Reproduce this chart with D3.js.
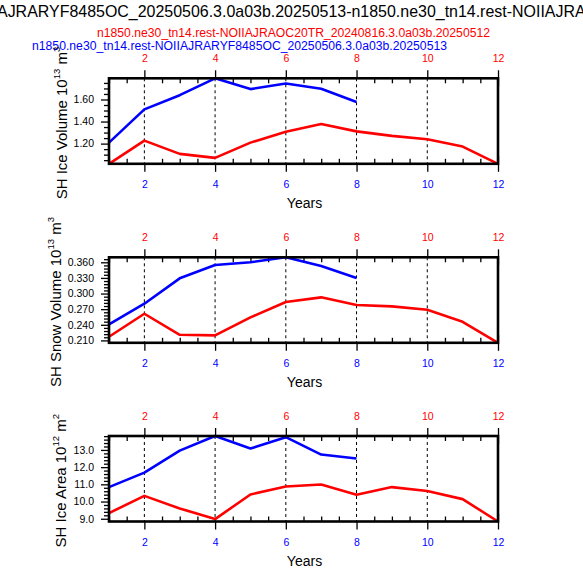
<!DOCTYPE html>
<html>
<head>
<meta charset="utf-8">
<script src="https://cdn.jsdelivr.net/npm/d3@7"></script>
<style>
  body { margin: 0; background: #fff; }
  svg { display: block; font-family: "Liberation Sans", Arial, Helvetica, sans-serif; }
</style>
</head>
<body>
<div id="chart"></div>
<script>
// Chart data
const caseBlue = 'n1850.ne30_tn14.rest-NOIIAJRARYF8485OC_20250506.3.0a03b.20250513';
const caseRed = 'n1850.ne30_tn14.rest-NOIIAJRAOC20TR_20240816.3.0a03b.20250512';
const mainTitle = caseBlue + '-' + caseRed;

const years = [1, 2, 3, 4, 5, 6, 7, 8, 9, 10, 11, 12];
const xMajorTicks = [2, 4, 6, 8, 10, 12];
const xGridLines = [2, 4, 6, 8, 10];

const iceVolBlue = [1.209, 1.510, 1.639, 1.792, 1.694, 1.745, 1.697, 1.578];
const iceVolRed = [1.017, 1.227, 1.107, 1.071, 1.209, 1.308, 1.377, 1.311, 1.270, 1.240, 1.173, 1.017];
const iceVolTicks = [1.20, 1.40, 1.60];

const snowVolBlue = [0.2408, 0.2804, 0.3292, 0.3548, 0.3600, 0.3696, 0.3529, 0.3298];
const snowVolRed = [0.2170, 0.2612, 0.2208, 0.2196, 0.2542, 0.2837, 0.2927, 0.2779, 0.2754, 0.2689, 0.2458, 0.2054];
const snowVolTicks = [0.210, 0.240, 0.270, 0.300, 0.330, 0.360];

const iceAreaBlue = [10.84, 11.68, 12.96, 13.81, 13.08, 13.74, 12.73, 12.50];
const iceAreaRed = [9.33, 10.33, 9.60, 8.98, 10.41, 10.87, 10.99, 10.39, 10.84, 10.61, 10.14, 8.84];
const iceAreaTicks = [9.0, 10.0, 11.0, 12.0, 13.0];

const panels = [
  { top: 78.3, titleX: 66.5, blue: iceVolBlue, red: iceVolRed, ticks: iceVolTicks, minorStep: 0.05, fmt: '.2f',
    label: ['SH Ice Volume 10', '13', ' m', '3'] },
  { top: 257.3, titleX: 60.5, blue: snowVolBlue, red: snowVolRed, ticks: snowVolTicks, minorStep: 0.006, fmt: '.3f',
    label: ['SH Snow Volume 10', '13', ' m', '3'] },
  { top: 436, titleX: 66, blue: iceAreaBlue, red: iceAreaRed, ticks: iceAreaTicks, minorStep: 0.2, fmt: '.1f',
    label: ['SH Ice Area 10', '12', ' m', '2'] }
];

const W = 583, H = 571;
const left = 109, right = 498, panelH = 85.5;
const BLUE = '#0000ff', RED = '#ff0000';

const svg = d3.select('#chart').append('svg')
  .attr('width', W).attr('height', H)
  .attr('viewBox', [0, 0, W, H]);

// Main title: long diff name, clipped at both window edges as in the original
function textWidth(str, size) {
  const t = svg.append('text').attr('font-size', size).text(str);
  const w = t.node().getComputedTextLength();
  t.remove();
  return w;
}
const visiblePart = 'AJRARYF8485OC_20250506.3.0a03b.20250513-n1850.ne30_tn14.rest-NOIIAJRA';
const titleSize = 15.5 * 589 / textWidth(visiblePart, 15.5);
const prefixW = textWidth('n1850.ne30_tn14.rest-NOII', titleSize);
svg.append('text')
  .attr('x', -3 - prefixW).attr('y', 17)
  .attr('font-size', titleSize)
  .attr('fill', '#000')
  .text(mainTitle);

// Case names
svg.append('text')
  .attr('x', 97).attr('y', 37)
  .attr('font-size', 12)
  .attr('fill', RED)
  .attr('textLength', 393).attr('lengthAdjust', 'spacingAndGlyphs')
  .text(caseRed);
svg.append('text')
  .attr('x', 32).attr('y', 49.5)
  .attr('font-size', 12)
  .attr('fill', BLUE)
  .attr('textLength', 415).attr('lengthAdjust', 'spacingAndGlyphs')
  .text(caseBlue);

const x = d3.scaleLinear().domain([1, 12]).range([left, right]);
const xMinor = d3.range(1, 12.01, 0.5).filter(v => !xMajorTicks.includes(v));

function styleAxis(g, color) {
  g.select('.domain').remove();
  g.selectAll('.tick line').attr('stroke', '#000').attr('stroke-width', 1.3);
  g.selectAll('.tick text').attr('fill', color || '#000').attr('font-size', 10.5);
}

panels.forEach(p => {
  const top = p.top, bottom = top + panelH;
  const all = p.blue.concat(p.red);
  const y = d3.scaleLinear().domain(d3.extent(all)).range([bottom, top]);

  const g = svg.append('g');

  // Dashed vertical grid lines
  g.selectAll('line.grid')
    .data(xGridLines)
    .enter().append('line')
    .attr('class', 'grid')
    .attr('x1', d => x(d)).attr('x2', d => x(d))
    .attr('y1', top).attr('y2', bottom)
    .attr('stroke', '#000')
    .attr('stroke-width', 1)
    .attr('stroke-dasharray', '3,3');

  // Bottom axis: blue labels, majors out + in, minors in
  g.append('g').attr('transform', `translate(0,${bottom})`)
    .call(d3.axisBottom(x).tickValues(xMajorTicks).tickSize(8).tickPadding(9).tickFormat(d3.format('d')))
    .call(a => styleAxis(a, BLUE));
  g.append('g').attr('transform', `translate(0,${bottom})`)
    .call(d3.axisBottom(x).tickValues([12]).tickSize(-8).tickFormat(''))
    .call(a => styleAxis(a));
  g.append('g').attr('transform', `translate(0,${bottom})`)
    .call(d3.axisBottom(x).tickValues(xMinor).tickSize(-5).tickFormat(''))
    .call(a => styleAxis(a));

  // Top axis: red labels
  g.append('g').attr('transform', `translate(0,${top})`)
    .call(d3.axisTop(x).tickValues(xMajorTicks).tickSize(8).tickPadding(8).tickFormat(d3.format('d')))
    .call(a => styleAxis(a, RED));
  g.append('g').attr('transform', `translate(0,${top})`)
    .call(d3.axisTop(x).tickValues([12]).tickSize(-8).tickFormat(''))
    .call(a => styleAxis(a));
  g.append('g').attr('transform', `translate(0,${top})`)
    .call(d3.axisTop(x).tickValues(xMinor).tickSize(-5).tickFormat(''))
    .call(a => styleAxis(a));

  // Left axis: majors + minors outward
  const [y0, y1] = y.domain();
  const step = p.minorStep;
  const yMinor = d3.range(Math.ceil(y0 / step - 1e-6) * step, y1 + 1e-9, step)
    .filter(v => !p.ticks.some(t => Math.abs(t - v) < step / 10));
  g.append('g').attr('transform', `translate(${left},0)`)
    .call(d3.axisLeft(y).tickValues(p.ticks).tickSize(8).tickPadding(7).tickFormat(d3.format(p.fmt)))
    .call(a => styleAxis(a));
  g.append('g').attr('transform', `translate(${left},0)`)
    .call(d3.axisLeft(y).tickValues(yMinor).tickSize(5).tickFormat(''))
    .call(a => styleAxis(a));

  // Data lines
  const line = d3.line().x((d, i) => x(years[i])).y(d => y(d));
  g.append('path').datum(p.red)
    .attr('d', line)
    .attr('fill', 'none')
    .attr('stroke', RED)
    .attr('stroke-width', 2.6)
    .attr('stroke-linejoin', 'round');
  g.append('path').datum(p.blue)
    .attr('d', line)
    .attr('fill', 'none')
    .attr('stroke', BLUE)
    .attr('stroke-width', 2.6)
    .attr('stroke-linejoin', 'round');

  // Frame
  g.append('rect')
    .attr('x', left).attr('y', top)
    .attr('width', right - left).attr('height', panelH)
    .attr('fill', 'none')
    .attr('stroke', '#000')
    .attr('stroke-width', 2.6);

  // X title
  g.append('text')
    .attr('x', (left + right) / 2 + 1).attr('y', bottom + 44)
    .attr('text-anchor', 'middle')
    .attr('font-size', 14)
    .text('Years');

  // Y title with superscripts
  const yt = g.append('text')
    .attr('transform', `translate(${p.titleX},${(top + bottom) / 2 + 2}) rotate(-90)`)
    .attr('text-anchor', 'middle')
    .attr('font-size', 15);
  yt.append('tspan').text(p.label[0]);
  yt.append('tspan').attr('dy', -7).attr('font-size', 9.5).text(p.label[1]);
  yt.append('tspan').attr('dy', 7).text(p.label[2]);
  yt.append('tspan').attr('dy', -7).attr('font-size', 9.5).text(p.label[3]);
});
</script>
</body>
</html>
